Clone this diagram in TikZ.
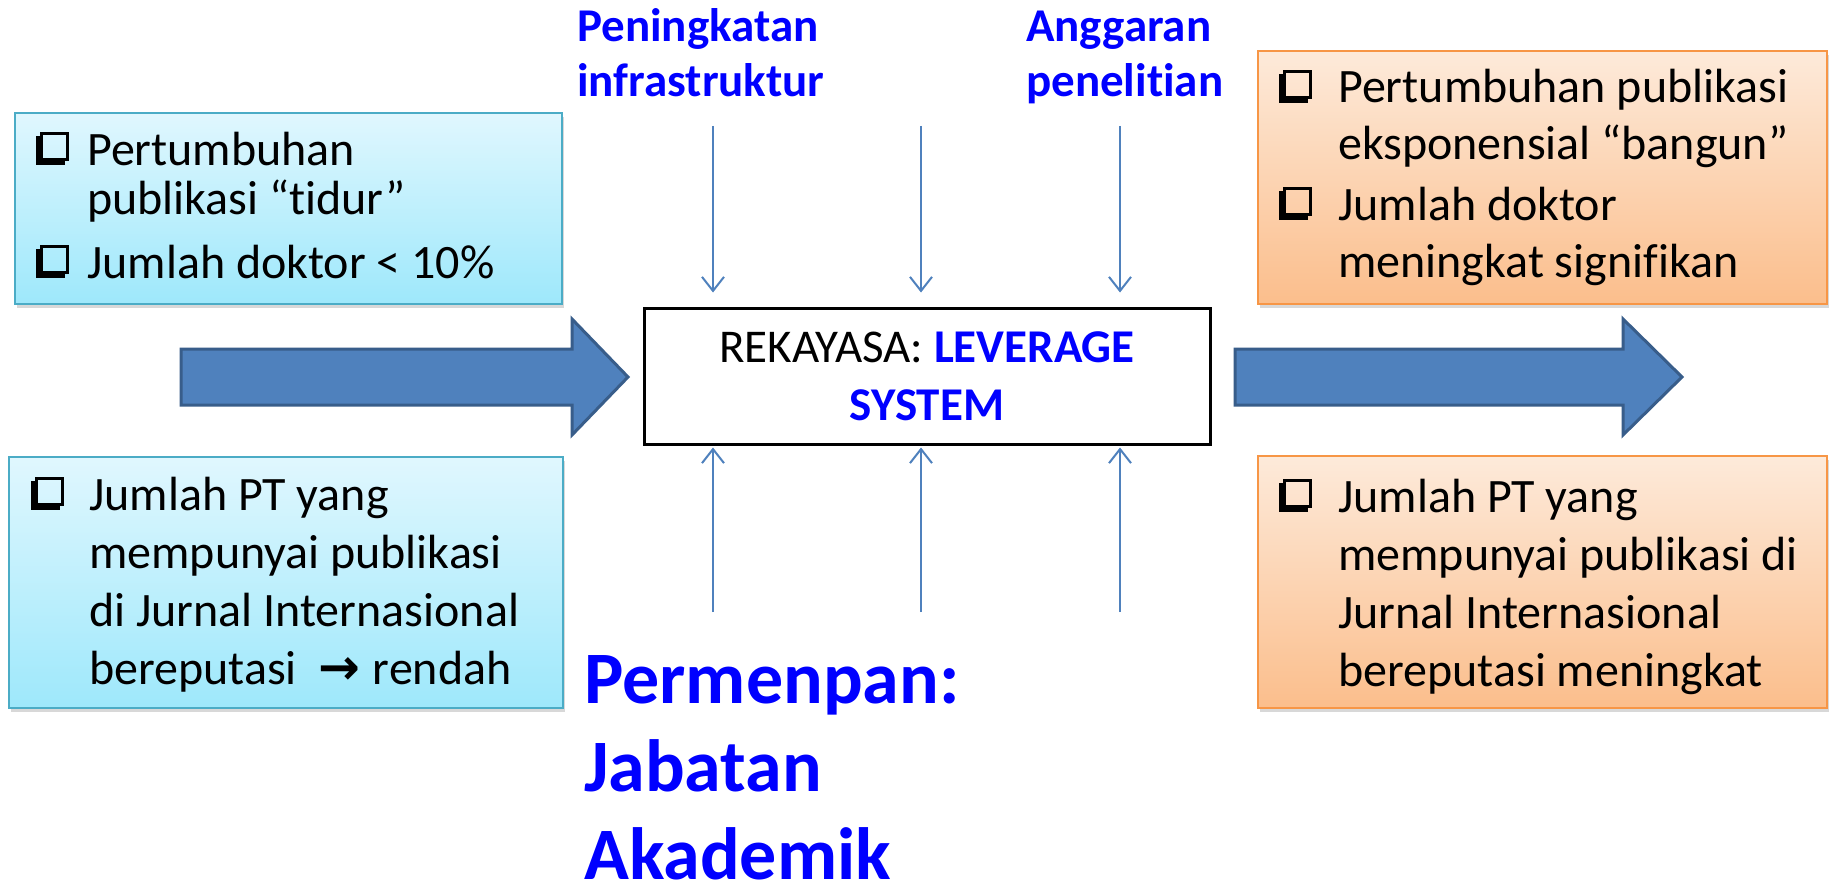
\documentclass[tikz,border=0pt]{standalone}
\usepackage{fontspec}
\setmainfont{Carlito}[Ligatures=NoCommon, RawFeature={-liga;-clig;-calt;-dlig}]
\newfontfamily\symfont{DejaVu Sans}
\usetikzlibrary{arrows.meta,shadows}
\definecolor{aquaB}{RGB}{75,172,198}
\definecolor{aquaT}{RGB}{224,247,254}
\definecolor{aquaBot}{RGB}{158,232,251}
\definecolor{orB}{RGB}{247,150,70}
\definecolor{orT}{RGB}{253,234,218}
\definecolor{orBot}{RGB}{251,190,140}
\definecolor{arrF}{RGB}{79,129,189}
\definecolor{arrD}{RGB}{56,93,138}
\definecolor{lblue}{RGB}{0,0,255}
\newcommand\mychk{{\setlength{\unitlength}{1pt}\begin{picture}(33,33)
\put(0,0){\rule{29pt}{7pt}}
\put(0,0){\rule{7pt}{29pt}}
\put(4,4){\rule{29pt}{3pt}}
\put(4,4){\rule{3pt}{29pt}}
\put(4,30){\rule{29pt}{3pt}}
\put(30,4){\rule{3pt}{29pt}}
\end{picture}}}
\newcommand\mystack[2]{\vtop{\baselineskip=#1\relax\lineskiplimit=-100pt\relax #2}}
\newcommand\ctrtext{\vtop{\baselineskip=58pt\relax\lineskiplimit=-100pt\relax
\halign{\hfil##\hfil\cr REKAYASA: {\bfseries\color{lblue}LEVERAGE}\cr{\bfseries\color{lblue}SYSTEM}\cr}}}
\begin{document}
\begin{tikzpicture}[x=1pt,y=-1pt,
  txt/.style={inner sep=0pt, anchor=base west, font=\fontsize{48}{58}\selectfont},
  lbl/.style={inner sep=0pt, anchor=base west, text=lblue, font=\bfseries\fontsize{47}{55}\selectfont},
  bigl/.style={inner sep=0pt, anchor=base west, text=lblue, font=\bfseries\fontsize{74}{89}\selectfont},
  sidebox/.style={line width=2pt, inner sep=0pt, anchor=north west,
     drop shadow={opacity=0.3, shadow xshift=2pt, shadow yshift=-4pt}},
  aquabox/.style={sidebox, draw=aquaB, top color=aquaT, bottom color=aquaBot},
  orbox/.style={sidebox, draw=orB, top color=orT, bottom color=orBot},
  bigarr/.style={fill=arrF, draw=arrD, line width=3pt, line join=miter},
  thinarr/.style={draw=arrF, line width=2pt, -{Straight Barb[length=14pt,width=22pt]}}]
\fill[white] (0,0) rectangle (1829,888);
\useasboundingbox (0,0) rectangle (1829,888);

% side boxes
\node[aquabox, minimum width=547pt, minimum height=191pt] (ltbox) at (14,112) {};
\node[aquabox, minimum width=554pt, minimum height=251pt] (lbbox) at (8,456) {};
\node[orbox, minimum width=569pt, minimum height=253pt] (rtbox) at (1257,50) {};
\node[orbox, minimum width=569pt, minimum height=252pt] (rbbox) at (1257,455) {};

% texts in side boxes
\node[txt] (lt1) at (36,165) {\makebox[51pt][l]{\mychk}\mystack{50pt}{\hbox{Pertumbuhan}\hbox{publikasi “tidur”}}};
\node[txt] (lt2) at (36,278) {\makebox[51pt][l]{\mychk}Jumlah doktor < 10\%};
\node[txt] (lb1) at (31,510) {\makebox[58pt][l]{\mychk}\mystack{58pt}{\hbox{Jumlah PT yang}\hbox{mempunyai publikasi}\hbox{di Jurnal Internasional}\hbox{bereputasi\hspace{22pt}{\symfont\bfseries\fontsize{50}{50}\selectfont →}\hspace{12pt}rendah}}};
\node[txt] (rt1) at (1279,103) {\makebox[59pt][l]{\mychk}\mystack{57pt}{\hbox{Pertumbuhan publikasi}\hbox{eksponensial “bangun”}}};
\node[txt] (rt2) at (1279,220) {\makebox[59pt][l]{\mychk}\mystack{57pt}{\hbox{Jumlah doktor}\hbox{meningkat signifikan}}};
\node[txt] (rb1) at (1279,512) {\makebox[59pt][l]{\mychk}\mystack{58pt}{\hbox{Jumlah PT yang}\hbox{mempunyai publikasi di}\hbox{Jurnal Internasional}\hbox{bereputasi meningkat}}};

% center box
\node[draw=black, line width=3pt, fill=white, minimum width=566pt, minimum height=136pt, inner sep=0pt,
      font=\fontsize{47}{58}\selectfont] (sys) at (927,376) {\ctrtext};

% big arrows
\draw[bigarr] (181,349) -- (572,349) -- (572,319) -- (628,377) -- (572,435) -- (572,405) -- (181,405) -- cycle;
\draw[bigarr] (1235,349) -- (1623,349) -- (1623,319) -- (1682,377) -- (1623,435) -- (1623,405) -- (1235,405) -- cycle;

% labels
\node[lbl] (inf) at (577,42) {\mystack{55pt}{\hbox{Peningkatan}\hbox{infrastruktur}}};
\node[lbl] (ang) at (1026,42) {\mystack{55pt}{\hbox{Anggaran}\hbox{penelitian}}};
\node[bigl] (perm) at (584,703) {\mystack{88pt}{\hbox{Permenpan:}\hbox{Jabatan}\hbox{Akademik}}};

% thin arrows
\coordinate (a1) at (713,126);
\coordinate (a2) at (921,126);
\coordinate (a3) at (1120,126);
\coordinate (b1) at (713,612);
\coordinate (b2) at (921,612);
\coordinate (b3) at (1120,612);
\draw[thinarr, shorten >=14pt] (a1) -- (a1 |- sys.north);
\draw[thinarr, shorten >=14pt] (a2) -- (a2 |- sys.north);
\draw[thinarr, shorten >=14pt] (a3) -- (a3 |- sys.north);
\draw[thinarr, shorten >=2pt] (b1) -- (b1 |- sys.south);
\draw[thinarr, shorten >=2pt] (b2) -- (b2 |- sys.south);
\draw[thinarr, shorten >=2pt] (b3) -- (b3 |- sys.south);
\end{tikzpicture}
\end{document}
